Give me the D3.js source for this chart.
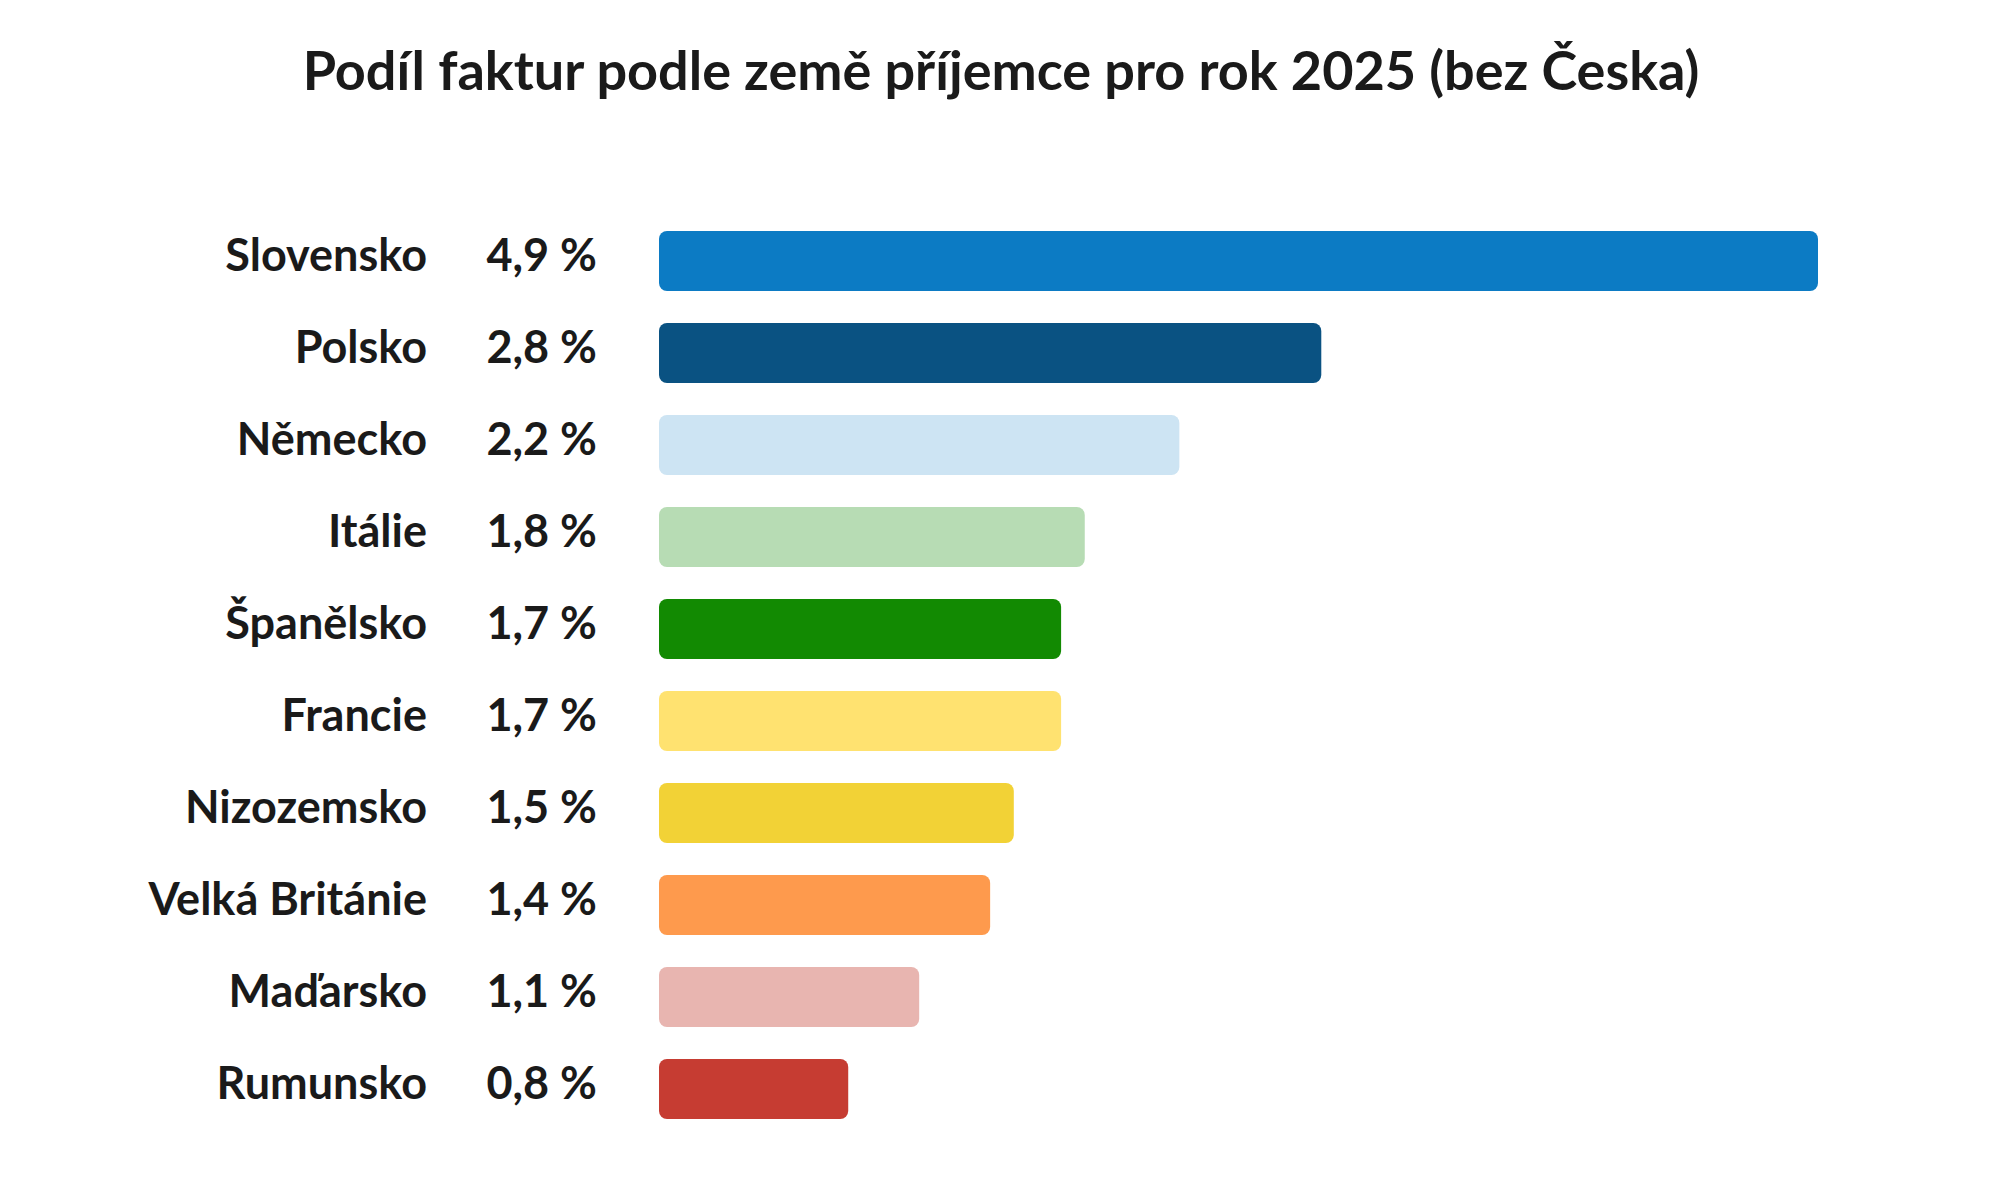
<!DOCTYPE html>
<html>
<head>
<meta charset="utf-8">
<script src="https://cdn.jsdelivr.net/npm/d3@7"></script>
<style>
  html, body { margin: 0; padding: 0; background: #fff; }
  svg { display: block; font-family: Lato, "Noto Sans", sans-serif; }
</style>
</head>
<body>
<svg id="chart"></svg>
<script>
const countries = ['Slovensko', 'Polsko', 'Německo', 'Itálie', 'Španělsko', 'Francie', 'Nizozemsko', 'Velká Británie', 'Maďarsko', 'Rumunsko'];
const shares = [4.9, 2.8, 2.2, 1.8, 1.7, 1.7, 1.5, 1.4, 1.1, 0.8];
const colors = ['#0c7bc4', '#0a5282', '#cde4f3', '#b7dcb4', '#128a02', '#ffe270', '#f2d236', '#fe9a4d', '#e8b5b0', '#c63c32'];
const title = 'Podíl faktur podle země příjemce pro rok 2025 (bez Česka)';

const width = 2000, height = 1200;
const svg = d3.select('#chart').attr('width', width).attr('height', height);

const data = countries.map((c, i) => ({ country: c, value: shares[i], color: colors[i] }));

// scales
const x = d3.scaleLinear()
  .domain([0, d3.max(shares)])
  .range([659, 1818]);

const y = d3.scaleBand()
  .domain(countries)
  .range([231, 231 + 10 * 92 - 32])
  .paddingInner(32 / 92)
  .paddingOuter(0);

const fmt = v => d3.format('.1f')(v).replace('.', ',') + ' %';

// title
svg.append('text')
  .attr('x', 1001)
  .attr('y', 90)
  .attr('text-anchor', 'middle')
  .style('font-size', '54px')
  .style('font-weight', 'bold')
  .attr('fill', '#1a1a1a')
  .text(title);

// bars
svg.selectAll('.bar')
  .data(data)
  .enter()
  .append('rect')
  .attr('class', 'bar')
  .attr('x', x(0))
  .attr('y', d => y(d.country))
  .attr('width', d => x(d.value) - x(0))
  .attr('height', y.bandwidth())
  .attr('rx', 8)
  .attr('ry', 8)
  .attr('fill', d => d.color);

// country labels
svg.selectAll('.label')
  .data(data)
  .enter()
  .append('text')
  .attr('class', 'label')
  .attr('x', 427)
  .attr('y', d => y(d.country) + y.bandwidth() / 2 + 10)
  .attr('text-anchor', 'end')
  .style('font-size', '45px')
  .style('font-weight', 'bold')
  .attr('fill', '#1a1a1a')
  .text(d => d.country);

// value labels
svg.selectAll('.value')
  .data(data)
  .enter()
  .append('text')
  .attr('class', 'value')
  .attr('x', 597)
  .attr('y', d => y(d.country) + y.bandwidth() / 2 + 10)
  .attr('text-anchor', 'end')
  .style('font-size', '45px')
  .style('font-weight', 'bold')
  .attr('fill', '#1a1a1a')
  .text(d => fmt(d.value));
</script>
</body>
</html>
